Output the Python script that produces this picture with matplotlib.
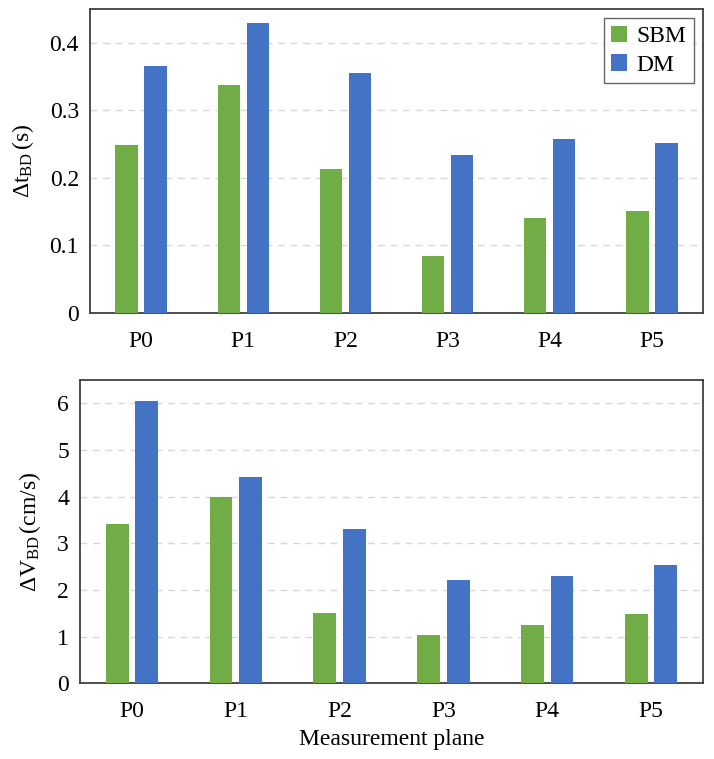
import matplotlib
matplotlib.use("Agg")
import matplotlib.pyplot as plt
import numpy as np

planes = ["P0", "P1", "P2", "P3", "P4", "P5"]
series_names = ["SBM", "DM"]
dt_sbm = [0.248, 0.337, 0.213, 0.085, 0.140, 0.151]
dt_dm = [0.365, 0.429, 0.355, 0.234, 0.258, 0.251]
dv_sbm = [3.42, 4.00, 1.50, 1.03, 1.24, 1.48]
dv_dm = [6.05, 4.42, 3.30, 2.21, 2.30, 2.54]
dt_ticks = [0, 0.1, 0.2, 0.3, 0.4]
dt_ticklabels = ["0", "0.1", "0.2", "0.3", "0.4"]
dv_ticks = [0, 1, 2, 3, 4, 5, 6]

plt.rcParams["font.family"] = ["Liberation Serif", "DejaVu Serif"]
plt.rcParams["mathtext.fontset"] = "custom"
plt.rcParams["mathtext.rm"] = "Liberation Serif"
plt.rcParams["mathtext.it"] = "Liberation Serif:italic"
plt.rcParams["font.size"] = 17

GREEN = "#70AD47"
BLUE = "#4472C4"
W, H = 714, 759
fig = plt.figure(figsize=(W / 100, H / 100), dpi=100)

ax1 = fig.add_axes([90 / W, (H - 313) / H, 613 / W, 304 / H])
ax2 = fig.add_axes([80 / W, (H - 683.3) / H, 623 / W, 303.3 / H])

x = np.arange(len(planes))
bw = 0.22
off = 0.142

def style(ax):
    for s in ax.spines.values():
        s.set_color("#404040")
        s.set_linewidth(1.3)
    ax.tick_params(axis="y", length=0, labelsize=17, pad=8)
    ax.tick_params(axis="x", length=0, labelsize=17, pad=13)
    ax.set_xlim(-0.5, len(planes) - 0.5)
    ax.set_xticks(x)
    ax.set_xticklabels(planes)
    ax.set_axisbelow(True)
    ax.yaxis.grid(True, color="#d9d9d9", linestyle=(0, (5, 4)), linewidth=1.0)

ax1.bar(x - off, dt_sbm, bw, color=GREEN, label=series_names[0], zorder=3)
ax1.bar(x + off, dt_dm, bw, color=BLUE, label=series_names[1], zorder=3)
style(ax1)
ax1.set_ylim(0, 0.45)
ax1.set_yticks(dt_ticks)
ax1.set_yticklabels(dt_ticklabels)
ax1.set_ylabel(r"$\Delta\mathrm{t}_{\mathrm{BD}}\,$(s)", fontsize=17, labelpad=10)
leg = ax1.legend(loc="upper right", frameon=True, fancybox=False, fontsize=17,
                 handlelength=0.7, handleheight=0.7, handletextpad=0.4,
                 borderpad=0.3, labelspacing=0.3, borderaxespad=0.4)
leg.get_frame().set_edgecolor("#404040")
leg.get_frame().set_linewidth(1.0)

ax2.bar(x - off, dv_sbm, bw, color=GREEN, zorder=3)
ax2.bar(x + off, dv_dm, bw, color=BLUE, zorder=3)
style(ax2)
ax2.set_ylim(0, 6.5)
ax2.set_yticks(dv_ticks)
ax2.set_ylabel(r"$\Delta\mathrm{V}_{\mathrm{BD}}\,$(cm/s)", fontsize=17, labelpad=10)
ax2.set_xlabel("Measurement plane", fontsize=17, labelpad=5)

fig.savefig("out.png", dpi=100)
